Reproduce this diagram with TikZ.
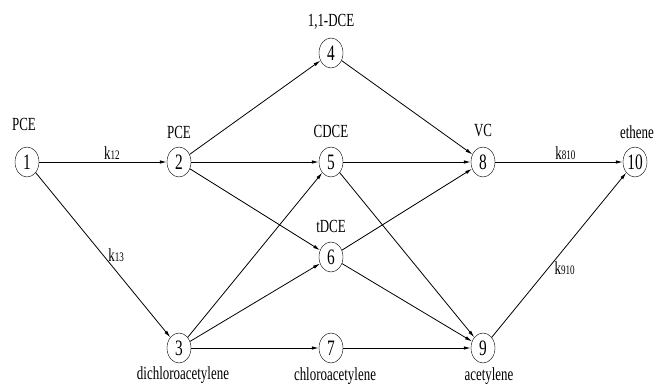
\documentclass[tikz,border=0pt]{standalone}
\usepackage{fontspec}
\setmainfont{Liberation Serif}[FakeStretch=0.7]
\usepackage{tikz}
\usetikzlibrary{shapes.geometric, arrows.meta}
\tikzstyle{species} = [ellipse, draw=black, inner sep=0pt, minimum width=24pt, minimum height=30pt, font=\fontsize{22pt}{22pt}\selectfont]
\tikzstyle{chem} = [inner sep=0pt, font=\fontsize{18.5pt}{18.5pt}\selectfont]
\tikzstyle{rate} = [inner sep=2pt, font=\fontsize{18.5pt}{18.5pt}\selectfont]
\tikzstyle{arrow} = [line width=0.8pt, -{Latex[length=7pt,width=3.5pt]}]
\newcommand{\kk}[1]{k{\fontsize{13pt}{13pt}\selectfont #1}}

\begin{document}
\begin{tikzpicture}[x=1pt, y=1pt, node distance=152pt]
			\useasboundingbox (0,0) rectangle (659,-385);
			\node (n1) [species] at (27,-162) {1};
			\node (n2) [species, right of=n1] {2};
			\node (n5) [species, right of=n2] {5};
			\node (n8) [species, right of=n5] {8};
			\node (n10) [species, right of=n8] {10};
			\node (n4) [species, above of=n5, yshift=-43pt] {4};
			\node (n6) [species, below of=n5, yshift=57pt] {6};
			\node (n7) [species, below of=n5, yshift=-34pt] {7};
			\node (n3) [species, below of=n2, yshift=-34pt] {3};
			\node (n9) [species, below of=n8, yshift=-34pt] {9};
			
			%names
			\node (t1) [chem, above of=n1, node distance=38pt, xshift=-3pt] {PCE};
			\node (t2) [chem, above of=n2, node distance=30pt] {PCE};
			\node (t4) [chem, above of=n4, node distance=31pt] {1,1-DCE};
			\node (t5) [chem, above of=n5, node distance=31pt] {CDCE};
			\node (t6) [chem, above of=n6, node distance=31pt] {tDCE};
			\node (t8) [chem, above of=n8, node distance=31pt] {VC};
			\node (t10) [chem, above of=n10, node distance=30pt, xshift=2pt] {ethene};
			\node (t3) [chem, below of=n3, node distance=27pt, xshift=4pt] {dichloroacetylene};
			\node (t7) [chem, below of=n7, node distance=28pt, xshift=4pt] {chloroacetylene};
			\node (t9) [chem, below of=n9, node distance=28pt, xshift=6pt] {acetylene};
			
			%arrows
			\draw [arrow] (n1) -- node[rate, pos=0.57, above] {\kk{12}} (n2);
			\draw [arrow] (n1) -- node[rate, pos=0.5, right, xshift=3pt] {\kk{13}} (n3);
			\draw [arrow] (n2) -- (n4);
			\draw [arrow] (n2) -- (n5);
			\draw [arrow] (n2) -- (n6);
			\draw [arrow] (n3) -- (n5);
			\draw [arrow] (n3) -- (n6);
			\draw [arrow] (n3) -- (n7);
			\draw [arrow] (n4) -- (n8);
			\draw [arrow] (n5) -- (n8);
			\draw [arrow] (n5) -- (n9);
			\draw [arrow] (n6) -- (n8);
			\draw [arrow] (n6) -- (n9);
			\draw [arrow] (n7) -- (n9);
			\draw [arrow] (n8) -- node[rate, pos=0.55, above] {\kk{810}} (n10);
			\draw [arrow] (n9) -- node[rate, pos=0.42, right, xshift=4pt] {\kk{910}} (n10);
			
		\end{tikzpicture}
\end{document}
